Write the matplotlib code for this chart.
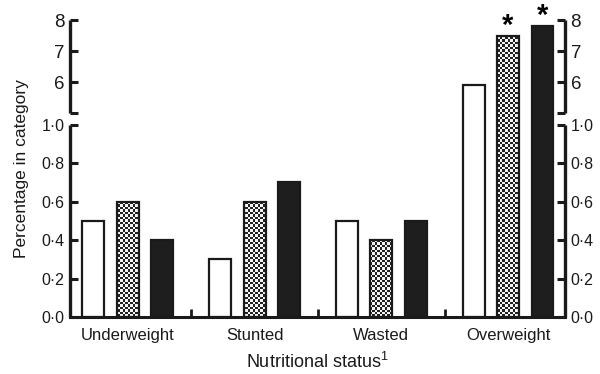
import numpy as np
import matplotlib.pyplot as plt
import matplotlib.transforms as mtransforms
from matplotlib.colors import ListedColormap

plt.rcParams['font.family'] = ['Liberation Sans', 'DejaVu Sans']
plt.rcParams['mathtext.fontset'] = 'custom'
plt.rcParams['mathtext.rm'] = 'Liberation Sans'

categories = ['Underweight', 'Stunted', 'Wasted', 'Overweight']
vals_open = [0.5, 0.3, 0.5, 5.9]
vals_check = [0.6, 0.6, 0.4, 7.5]
vals_solid = [0.4, 0.7, 0.5, 7.8]
signif_check = [False, False, False, True]
signif_solid = [False, False, False, True]
lower_ticks = [0.0, 0.2, 0.4, 0.6, 0.8, 1.0]
upper_ticks = [5, 6, 7, 8]

# broken y axis: 0-1 at full scale, small gap, 5-8 compressed
gap = 0.058
k = 0.162
brk_val = [-10, 0, 1, 5, 8, 30]
brk_pos = [-10, 0, 1, 1 + gap, 1 + gap + 3 * k, 1 + gap + 25 * k]
fwd = lambda v: np.interp(v, brk_val, brk_pos)
inv = lambda p: np.interp(p, brk_pos, brk_val)

fig = plt.figure(figsize=(6, 3.74), dpi=100)
ax = fig.add_axes([0.1167, 0.1524, 0.825, 0.7941])
ax.set_yscale('function', functions=(fwd, inv))

x = np.arange(len(categories))
off = 0.272
w = 0.173
lw = 1.6

b1 = ax.bar(x - off, vals_open, w, color='white', edgecolor='#1a1a1a', linewidth=lw, zorder=2)
b2 = ax.bar(x, vals_check, w, color='white', edgecolor='none', zorder=2)
b3 = ax.bar(x + off, vals_solid, w, color='#1e1e1e', edgecolor='#1a1a1a', linewidth=lw, zorder=2)

# checkerboard fill for the middle series
ny, nx = 119, 198
board = np.indices((ny, nx)).sum(axis=0) % 2
cmap = ListedColormap(['#f4f4f4', '#222222'])
for p in b2.patches:
    im = ax.imshow(board, cmap=cmap, extent=[0, 1, 0, 1], transform=ax.transAxes,
                   interpolation='nearest', aspect='auto', zorder=2.2)
    im.set_clip_path(p)
ax.bar(x, vals_check, w, fill=False, edgecolor='#1a1a1a', linewidth=lw, zorder=3)

for xi, v, s in zip(x, vals_check, signif_check):
    if s:
        ax.annotate('*', xy=(xi, v), xytext=(0, -3), textcoords='offset points',
                    ha='center', va='bottom', fontsize=21, fontweight='bold',
                    annotation_clip=False)
for xi, v, s in zip(x + off, vals_solid, signif_solid):
    if s:
        ax.annotate('*', xy=(xi, v), xytext=(0, -3), textcoords='offset points',
                    ha='center', va='bottom', fontsize=21, fontweight='bold',
                    annotation_clip=False)

ax.set_xlim(-0.457, 3.45)
ax.set_ylim(0, 8)

# axes lines
for s in ['top', 'left', 'right']:
    ax.spines[s].set_visible(False)
ax.spines['bottom'].set_linewidth(2.2)
ax.spines['bottom'].set_color('#1a1a1a')
trans = mtransforms.blended_transform_factory(ax.transAxes, ax.transData)
for xa in [0, 1]:
    ax.plot([xa, xa], [0, 1], transform=trans, color='#1a1a1a', lw=2.4,
            clip_on=False, solid_capstyle='butt')
    ax.plot([xa, xa], [5, 8], transform=trans, color='#1a1a1a', lw=2.4,
            clip_on=False, solid_capstyle='butt')

yt = lower_ticks + upper_ticks
ax.set_yticks(yt)
ax.set_yticklabels([f'{t:.1f}'.replace('.', '\u00b7') if t <= 1 else ('' if t == 5 else f'{t:d}')
                    for t in yt])
ax.tick_params(axis='y', which='major', direction='in', length=6, width=2.2,
               color='#1a1a1a', left=True, right=True, labelleft=True, labelright=True,
               pad=4, labelcolor='#1a1a1a')
for t, tick in zip(yt, ax.yaxis.get_major_ticks()):
    fs = 13.5 if t > 1 else 11.5
    tick.label1.set_fontsize(fs)
    tick.label2.set_fontsize(fs)

ax.set_xticks(x)
ax.set_xticklabels(categories, fontsize=12, color='#1a1a1a')
ax.tick_params(axis='x', which='major', length=0, pad=8)
ax.set_xticks(x[:-1] + 0.5, minor=True)
ax.tick_params(axis='x', which='minor', direction='in', length=6, width=2, color='#1a1a1a')

ax.set_xlabel('Nutritional status$^1$', fontsize=13, color='#1a1a1a', labelpad=6)
ax.set_ylabel('Percentage in category', fontsize=12.5, color='#1a1a1a', labelpad=9)

fig.savefig('out.png', dpi=100)
